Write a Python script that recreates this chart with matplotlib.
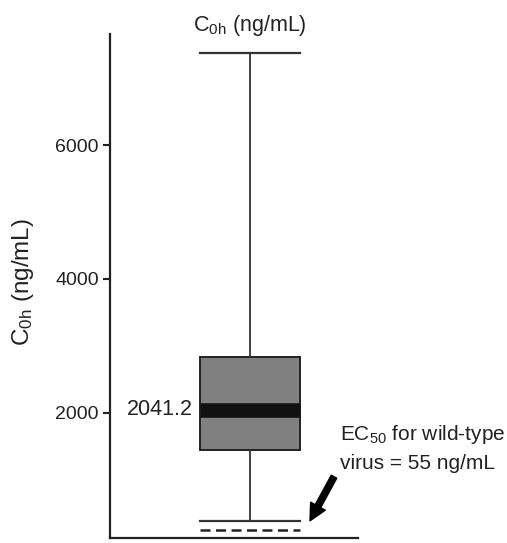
import matplotlib

matplotlib.use("Agg")
import matplotlib.pyplot as plt

# values
label = "C$_{0h}$ (ng/mL)"
whisker_low = 380
q1 = 1440
median = 2041.2
q3 = 2830
whisker_high = 7385
ec50_marker = 250
y_ticks = [2000, 4000, 6000]
y_limits = (123, 7663)

plt.rcParams["font.family"] = ["Liberation Sans", "DejaVu Sans"]
plt.rcParams["mathtext.fontset"] = "custom"
plt.rcParams["mathtext.rm"] = "Liberation Sans"
plt.rcParams["mathtext.it"] = "Liberation Sans"

fig = plt.figure(figsize=(5.07, 5.43), dpi=100)
ax = fig.add_axes([110 / 507, 5 / 543, 248 / 507, 504 / 543])

stats = [
    dict(med=median, q1=q1, q3=q3, whislo=whisker_low, whishi=whisker_high, label="")
]
ax.bxp(
    stats,
    positions=[1],
    widths=1.0,
    showfliers=False,
    patch_artist=True,
    boxprops=dict(facecolor="#808080", edgecolor="#222222", linewidth=1.4),
    medianprops=dict(color="#111111", linewidth=10.5, solid_capstyle="butt"),
    whiskerprops=dict(color="#333333", linewidth=1.3),
    capprops=dict(color="#333333", linewidth=1.6),
    capwidths=1.0,
)

ax.hlines(ec50_marker, 0.5, 1.5, colors="#222222", linestyles=(0, (4, 2.2)), linewidth=1.8)

ax.set_xlim(-0.4, 2.08)
ax.set_ylim(*y_limits)
ax.set_yticks(y_ticks)
ax.set_xticks([])
for side in ["top", "right"]:
    ax.spines[side].set_visible(False)
for side in ["left", "bottom"]:
    ax.spines[side].set_linewidth(1.6)
    ax.spines[side].set_color("#222222")
ax.tick_params(axis="y", length=5, width=1.5, labelsize=14, pad=3, colors="#222222")

ax.text(0.43, median, f"{median:.1f}", ha="right", va="center", fontsize=15.5, color="#222222")

ax.annotate(
    "",
    xy=(1.6, 380),
    xytext=(1.84, 1040),
    arrowprops=dict(facecolor="black", edgecolor="black", width=4.5, headwidth=12, headlength=12),
    annotation_clip=False,
)
ax.text(
    1.9,
    1840,
    "EC$_{50}$ for wild-type\nvirus = 55 ng/mL",
    ha="left",
    va="top",
    fontsize=15,
    color="#222222",
    linespacing=1.55,
    clip_on=False,
)

fig.text(250 / 507, 1 - 31 / 543, label, ha="center", va="baseline", fontsize=15.5, color="#222222")
fig.text(23 / 507, 1 - 282 / 543, label, ha="center", va="center", rotation=90, fontsize=17.5, color="#222222")

fig.savefig("out.png", dpi=100)
